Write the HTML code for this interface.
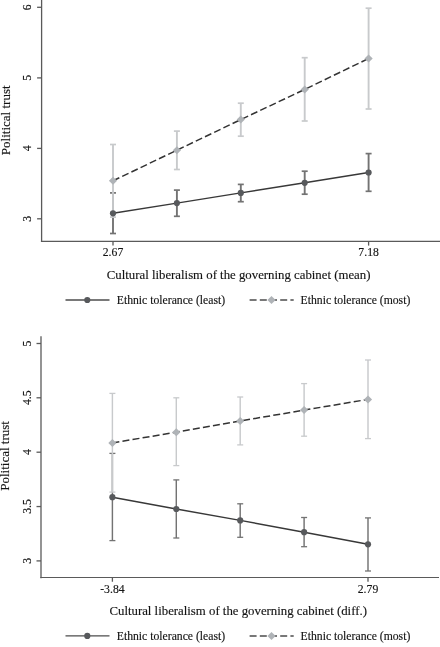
<!DOCTYPE html>
<html><head><meta charset="utf-8"><style>
html,body{margin:0;padding:0;background:#fff;}
body{width:440px;height:647px;overflow:hidden;}
svg{display:block;font-family:"Liberation Serif", serif;will-change:transform;}
text{stroke:#222;stroke-width:0.15px;}
</style></head><body>
<svg width="440" height="647" viewBox="0 0 440 647">
<rect width="440" height="647" fill="#ffffff"/>
<line x1="41.6" y1="0" x2="41.6" y2="242.0" stroke="#5a5a5a" stroke-width="1.3"/>
<line x1="40.95" y1="241.3" x2="440" y2="241.3" stroke="#5a5a5a" stroke-width="1.3"/>
<line x1="37.1" y1="7.3" x2="41.6" y2="7.3" stroke="#5a5a5a" stroke-width="1.3"/>
<text x="0" y="0" transform="translate(31.3,7.3) rotate(-90)" text-anchor="middle" font-size="11.7" fill="#111111">6</text>
<line x1="37.1" y1="77.9" x2="41.6" y2="77.9" stroke="#5a5a5a" stroke-width="1.3"/>
<text x="0" y="0" transform="translate(31.3,77.9) rotate(-90)" text-anchor="middle" font-size="11.7" fill="#111111">5</text>
<line x1="37.1" y1="148.4" x2="41.6" y2="148.4" stroke="#5a5a5a" stroke-width="1.3"/>
<text x="0" y="0" transform="translate(31.3,148.4) rotate(-90)" text-anchor="middle" font-size="11.7" fill="#111111">4</text>
<line x1="37.1" y1="218.8" x2="41.6" y2="218.8" stroke="#5a5a5a" stroke-width="1.3"/>
<text x="0" y="0" transform="translate(31.3,218.8) rotate(-90)" text-anchor="middle" font-size="11.7" fill="#111111">3</text>
<line x1="113.0" y1="241.3" x2="113.0" y2="245.60000000000002" stroke="#5a5a5a" stroke-width="1.3"/>
<text x="113.0" y="256.4" text-anchor="middle" font-size="11.7" fill="#111111">2.67</text>
<line x1="368.6" y1="241.3" x2="368.6" y2="245.60000000000002" stroke="#5a5a5a" stroke-width="1.3"/>
<text x="368.6" y="256.4" text-anchor="middle" font-size="11.7" fill="#111111">7.18</text>
<line x1="113.0" y1="192.9" x2="113.0" y2="233.5" stroke="#737373" stroke-width="1.9"/>
<line x1="110.0" y1="192.9" x2="116.0" y2="192.9" stroke="#737373" stroke-width="1.7"/>
<line x1="110.0" y1="233.5" x2="116.0" y2="233.5" stroke="#737373" stroke-width="1.7"/>
<line x1="176.9" y1="190.1" x2="176.9" y2="216.3" stroke="#737373" stroke-width="1.9"/>
<line x1="173.9" y1="190.1" x2="179.9" y2="190.1" stroke="#737373" stroke-width="1.7"/>
<line x1="173.9" y1="216.3" x2="179.9" y2="216.3" stroke="#737373" stroke-width="1.7"/>
<line x1="240.8" y1="184.4" x2="240.8" y2="201.7" stroke="#737373" stroke-width="1.9"/>
<line x1="237.8" y1="184.4" x2="243.8" y2="184.4" stroke="#737373" stroke-width="1.7"/>
<line x1="237.8" y1="201.7" x2="243.8" y2="201.7" stroke="#737373" stroke-width="1.7"/>
<line x1="304.7" y1="171.2" x2="304.7" y2="194.2" stroke="#737373" stroke-width="1.9"/>
<line x1="301.7" y1="171.2" x2="307.7" y2="171.2" stroke="#737373" stroke-width="1.7"/>
<line x1="301.7" y1="194.2" x2="307.7" y2="194.2" stroke="#737373" stroke-width="1.7"/>
<line x1="368.6" y1="153.6" x2="368.6" y2="191.3" stroke="#737373" stroke-width="1.9"/>
<line x1="365.6" y1="153.6" x2="371.6" y2="153.6" stroke="#737373" stroke-width="1.7"/>
<line x1="365.6" y1="191.3" x2="371.6" y2="191.3" stroke="#737373" stroke-width="1.7"/>
<line x1="113.0" y1="144.5" x2="113.0" y2="217.1" stroke="#c8cacc" stroke-width="1.9"/>
<line x1="110.0" y1="144.5" x2="116.0" y2="144.5" stroke="#c8cacc" stroke-width="1.7"/>
<line x1="110.0" y1="217.1" x2="116.0" y2="217.1" stroke="#c8cacc" stroke-width="1.7"/>
<line x1="176.9" y1="131.1" x2="176.9" y2="169.5" stroke="#c8cacc" stroke-width="1.9"/>
<line x1="173.9" y1="131.1" x2="179.9" y2="131.1" stroke="#c8cacc" stroke-width="1.7"/>
<line x1="173.9" y1="169.5" x2="179.9" y2="169.5" stroke="#c8cacc" stroke-width="1.7"/>
<line x1="240.8" y1="103.2" x2="240.8" y2="136.2" stroke="#c8cacc" stroke-width="1.9"/>
<line x1="237.8" y1="103.2" x2="243.8" y2="103.2" stroke="#c8cacc" stroke-width="1.7"/>
<line x1="237.8" y1="136.2" x2="243.8" y2="136.2" stroke="#c8cacc" stroke-width="1.7"/>
<line x1="304.7" y1="57.7" x2="304.7" y2="121.0" stroke="#c8cacc" stroke-width="1.9"/>
<line x1="301.7" y1="57.7" x2="307.7" y2="57.7" stroke="#c8cacc" stroke-width="1.7"/>
<line x1="301.7" y1="121.0" x2="307.7" y2="121.0" stroke="#c8cacc" stroke-width="1.7"/>
<line x1="368.6" y1="8.2" x2="368.6" y2="109.0" stroke="#c8cacc" stroke-width="1.9"/>
<line x1="365.6" y1="8.2" x2="371.6" y2="8.2" stroke="#c8cacc" stroke-width="1.7"/>
<line x1="365.6" y1="109.0" x2="371.6" y2="109.0" stroke="#c8cacc" stroke-width="1.7"/>
<polyline points="113.0,213.3 176.9,203.1 240.8,192.9 304.7,182.8 368.6,172.5" fill="none" stroke="#383838" stroke-width="1.4"/>
<circle cx="113.0" cy="213.3" r="3.1" fill="#57595c"/>
<circle cx="176.9" cy="203.1" r="3.1" fill="#57595c"/>
<circle cx="240.8" cy="192.9" r="3.1" fill="#57595c"/>
<circle cx="304.7" cy="182.8" r="3.1" fill="#57595c"/>
<circle cx="368.6" cy="172.5" r="3.1" fill="#57595c"/>
<polyline points="113.0,180.8 176.9,150.2 240.8,119.6 304.7,89.4 368.6,58.5" fill="none" stroke="#333333" stroke-width="1.5" stroke-dasharray="7,3.2"/>
<path d="M108.9,180.8 L113.0,176.8 L117.1,180.8 L113.0,184.8 Z" fill="#afb3b7"/>
<path d="M172.8,150.2 L176.9,146.2 L181.0,150.2 L176.9,154.2 Z" fill="#afb3b7"/>
<path d="M236.70000000000002,119.6 L240.8,115.6 L244.9,119.6 L240.8,123.6 Z" fill="#afb3b7"/>
<path d="M300.59999999999997,89.4 L304.7,85.4 L308.8,89.4 L304.7,93.4 Z" fill="#afb3b7"/>
<path d="M364.5,58.5 L368.6,54.5 L372.70000000000005,58.5 L368.6,62.5 Z" fill="#afb3b7"/>
<text x="238.6" y="278.7" text-anchor="middle" font-size="12.8" fill="#111111">Cultural liberalism of the governing cabinet (mean)</text>
<text x="0" y="0" transform="translate(9.8,120.3) rotate(-90)" text-anchor="middle" font-size="13" fill="#111111">Political trust</text>
<line x1="65.5" y1="300.0" x2="109.5" y2="300.0" stroke="#4c4c4c" stroke-width="1.35"/>
<circle cx="87.3" cy="300.0" r="3.1" fill="#57595c"/>
<text x="116.8" y="304.0" font-size="11.7" fill="#111111">Ethnic tolerance (least)</text>
<line x1="249.6" y1="300.0" x2="293.7" y2="300.0" stroke="#4c4c4c" stroke-width="1.45" stroke-dasharray="7,3.2"/>
<path d="M267.4,300.0 L271.5,296.0 L275.6,300.0 L271.5,304.0 Z" fill="#afb3b7"/>
<text x="300.6" y="304.0" font-size="11.7" fill="#111111">Ethnic tolerance (most)</text>
<line x1="41.0" y1="336.2" x2="41.0" y2="578.1500000000001" stroke="#5a5a5a" stroke-width="1.3"/>
<line x1="40.35" y1="577.45" x2="439" y2="577.45" stroke="#5a5a5a" stroke-width="1.15"/>
<line x1="36.5" y1="343.5" x2="41.0" y2="343.5" stroke="#5a5a5a" stroke-width="1.3"/>
<text x="0" y="0" transform="translate(30.9,343.5) rotate(-90)" text-anchor="middle" font-size="11.7" fill="#111111">5</text>
<line x1="36.5" y1="397.8" x2="41.0" y2="397.8" stroke="#5a5a5a" stroke-width="1.3"/>
<text x="0" y="0" transform="translate(30.9,397.8) rotate(-90)" text-anchor="middle" font-size="11.7" fill="#111111">4.5</text>
<line x1="36.5" y1="452.2" x2="41.0" y2="452.2" stroke="#5a5a5a" stroke-width="1.3"/>
<text x="0" y="0" transform="translate(30.9,452.2) rotate(-90)" text-anchor="middle" font-size="11.7" fill="#111111">4</text>
<line x1="36.5" y1="506.55" x2="41.0" y2="506.55" stroke="#5a5a5a" stroke-width="1.3"/>
<text x="0" y="0" transform="translate(30.9,506.55) rotate(-90)" text-anchor="middle" font-size="11.7" fill="#111111">3.5</text>
<line x1="36.5" y1="560.9" x2="41.0" y2="560.9" stroke="#5a5a5a" stroke-width="1.3"/>
<text x="0" y="0" transform="translate(30.9,560.9) rotate(-90)" text-anchor="middle" font-size="11.7" fill="#111111">3</text>
<line x1="112.4" y1="577.45" x2="112.4" y2="581.75" stroke="#5a5a5a" stroke-width="1.3"/>
<text x="112.4" y="592.7" text-anchor="middle" font-size="11.7" fill="#111111">-3.84</text>
<line x1="368.0" y1="577.45" x2="368.0" y2="581.75" stroke="#5a5a5a" stroke-width="1.3"/>
<text x="368.0" y="592.7" text-anchor="middle" font-size="11.7" fill="#111111">2.79</text>
<line x1="112.4" y1="453.4" x2="112.4" y2="540.6" stroke="#737373" stroke-width="1.45"/>
<line x1="109.4" y1="453.4" x2="115.4" y2="453.4" stroke="#737373" stroke-width="1.3"/>
<line x1="109.4" y1="540.6" x2="115.4" y2="540.6" stroke="#737373" stroke-width="1.3"/>
<line x1="176.3" y1="479.9" x2="176.3" y2="538.0" stroke="#737373" stroke-width="1.45"/>
<line x1="173.3" y1="479.9" x2="179.3" y2="479.9" stroke="#737373" stroke-width="1.3"/>
<line x1="173.3" y1="538.0" x2="179.3" y2="538.0" stroke="#737373" stroke-width="1.3"/>
<line x1="240.2" y1="503.8" x2="240.2" y2="537.3" stroke="#737373" stroke-width="1.45"/>
<line x1="237.2" y1="503.8" x2="243.2" y2="503.8" stroke="#737373" stroke-width="1.3"/>
<line x1="237.2" y1="537.3" x2="243.2" y2="537.3" stroke="#737373" stroke-width="1.3"/>
<line x1="304.1" y1="517.5" x2="304.1" y2="546.7" stroke="#737373" stroke-width="1.45"/>
<line x1="301.1" y1="517.5" x2="307.1" y2="517.5" stroke="#737373" stroke-width="1.3"/>
<line x1="301.1" y1="546.7" x2="307.1" y2="546.7" stroke="#737373" stroke-width="1.3"/>
<line x1="368.0" y1="517.9" x2="368.0" y2="571.0" stroke="#737373" stroke-width="1.45"/>
<line x1="365.0" y1="517.9" x2="371.0" y2="517.9" stroke="#737373" stroke-width="1.3"/>
<line x1="365.0" y1="571.0" x2="371.0" y2="571.0" stroke="#737373" stroke-width="1.3"/>
<line x1="112.4" y1="393.4" x2="112.4" y2="492.1" stroke="#c8cacc" stroke-width="1.45"/>
<line x1="109.4" y1="393.4" x2="115.4" y2="393.4" stroke="#c8cacc" stroke-width="1.3"/>
<line x1="109.4" y1="492.1" x2="115.4" y2="492.1" stroke="#c8cacc" stroke-width="1.3"/>
<line x1="176.3" y1="397.8" x2="176.3" y2="465.6" stroke="#c8cacc" stroke-width="1.45"/>
<line x1="173.3" y1="397.8" x2="179.3" y2="397.8" stroke="#c8cacc" stroke-width="1.3"/>
<line x1="173.3" y1="465.6" x2="179.3" y2="465.6" stroke="#c8cacc" stroke-width="1.3"/>
<line x1="240.2" y1="397.0" x2="240.2" y2="444.9" stroke="#c8cacc" stroke-width="1.45"/>
<line x1="237.2" y1="397.0" x2="243.2" y2="397.0" stroke="#c8cacc" stroke-width="1.3"/>
<line x1="237.2" y1="444.9" x2="243.2" y2="444.9" stroke="#c8cacc" stroke-width="1.3"/>
<line x1="304.1" y1="383.6" x2="304.1" y2="436.2" stroke="#c8cacc" stroke-width="1.45"/>
<line x1="301.1" y1="383.6" x2="307.1" y2="383.6" stroke="#c8cacc" stroke-width="1.3"/>
<line x1="301.1" y1="436.2" x2="307.1" y2="436.2" stroke="#c8cacc" stroke-width="1.3"/>
<line x1="368.0" y1="360.0" x2="368.0" y2="438.6" stroke="#c8cacc" stroke-width="1.45"/>
<line x1="365.0" y1="360.0" x2="371.0" y2="360.0" stroke="#c8cacc" stroke-width="1.3"/>
<line x1="365.0" y1="438.6" x2="371.0" y2="438.6" stroke="#c8cacc" stroke-width="1.3"/>
<polyline points="112.4,497.2 176.3,509.0 240.2,520.4 304.1,532.2 368.0,544.3" fill="none" stroke="#383838" stroke-width="1.4"/>
<circle cx="112.4" cy="497.2" r="3.1" fill="#57595c"/>
<circle cx="176.3" cy="509.0" r="3.1" fill="#57595c"/>
<circle cx="240.2" cy="520.4" r="3.1" fill="#57595c"/>
<circle cx="304.1" cy="532.2" r="3.1" fill="#57595c"/>
<circle cx="368.0" cy="544.3" r="3.1" fill="#57595c"/>
<polyline points="112.4,442.9 176.3,432.2 240.2,421.0 304.1,410.1 368.0,399.4" fill="none" stroke="#333333" stroke-width="1.5" stroke-dasharray="7,3.2"/>
<path d="M108.30000000000001,442.9 L112.4,438.9 L116.5,442.9 L112.4,446.9 Z" fill="#afb3b7"/>
<path d="M172.20000000000002,432.2 L176.3,428.2 L180.4,432.2 L176.3,436.2 Z" fill="#afb3b7"/>
<path d="M236.1,421.0 L240.2,417.0 L244.29999999999998,421.0 L240.2,425.0 Z" fill="#afb3b7"/>
<path d="M300.0,410.1 L304.1,406.1 L308.20000000000005,410.1 L304.1,414.1 Z" fill="#afb3b7"/>
<path d="M363.9,399.4 L368.0,395.4 L372.1,399.4 L368.0,403.4 Z" fill="#afb3b7"/>
<text x="238.2" y="614.7" text-anchor="middle" font-size="12.8" fill="#111111">Cultural liberalism of the governing cabinet (diff.)</text>
<text x="0" y="0" transform="translate(8.8,455.9) rotate(-90)" text-anchor="middle" font-size="13" fill="#111111">Political trust</text>
<line x1="65.5" y1="635.9" x2="109.5" y2="635.9" stroke="#4c4c4c" stroke-width="1.35"/>
<circle cx="87.3" cy="635.9" r="3.1" fill="#57595c"/>
<text x="116.8" y="639.9" font-size="11.7" fill="#111111">Ethnic tolerance (least)</text>
<line x1="249.6" y1="635.9" x2="293.7" y2="635.9" stroke="#4c4c4c" stroke-width="1.45" stroke-dasharray="7,3.2"/>
<path d="M267.4,635.9 L271.5,631.9 L275.6,635.9 L271.5,639.9 Z" fill="#afb3b7"/>
<text x="300.6" y="639.9" font-size="11.7" fill="#111111">Ethnic tolerance (most)</text>
</svg>
</body></html>
